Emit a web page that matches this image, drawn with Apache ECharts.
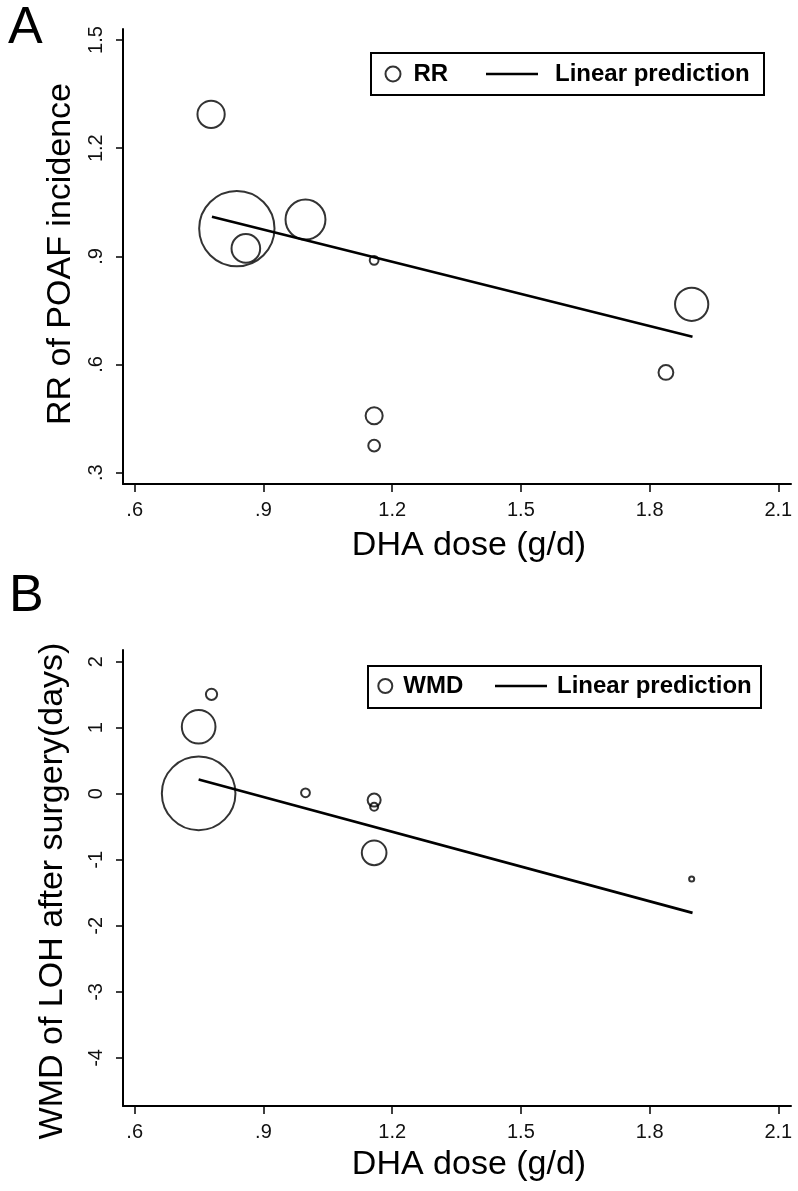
<!DOCTYPE html>
<html><head><meta charset="utf-8">
<script src="https://cdn.jsdelivr.net/npm/echarts@6/dist/echarts.min.js"></script>
<style>html,body{margin:0;padding:0;background:#fff}#c{width:798px;height:1191px}</style>
</head><body><div id="c"></div>
<script>
// ---- data ----
const xTicks = [0.6, 0.9, 1.2, 1.5, 1.8, 2.1];
const yTicksA = [0.3, 0.6, 0.9, 1.2, 1.5];
const yTicksB = [-4, -3, -2, -1, 0, 1, 2];

// Panel A: RR of POAF incidence vs DHA dose
const doseA = [0.778, 0.838, 0.859, 0.998, 1.158, 1.158, 1.158, 1.838, 1.898];
const rrA = [1.294, 0.977, 0.922, 1.002, 0.889, 0.458, 0.375, 0.578, 0.767];
const weightA = [7.3, 51.0, 8.0, 15.0, 1.0, 3.1, 1.6, 2.4, 10.6];
const fitDoseA = [0.78, 1.90];
const fitRRA = [1.010, 0.677];

// Panel B: WMD of LOH vs DHA dose
const doseB = [0.779, 0.749, 0.749, 0.998, 1.158, 1.158, 1.158, 1.898];
const wmdB = [1.506, 1.015, 0.006, 0.015, -0.095, -0.197, -0.894, -1.29];
const weightB = [2.1, 15.2, 68.3, 1.4, 2.7, 1.2, 8.5, 0.6];
const fitDoseB = [0.749, 1.90];
const fitWMDB = [0.218, -1.803];

// ---- styles ----
const FONT = '"Liberation Sans", Arial, Helvetica, sans-serif';
const INK = '#000';
const fmt = v => String(Math.round(v * 10) / 10).replace(/^(-?)0\./, '$1.');

function xAxisFor(gridIndex, gap) {
  return {
    type: 'value', gridIndex, min: 0.5727, max: 2.1295,
    name: 'DHA dose (g/d)', nameLocation: 'middle', nameGap: gap,
    nameTextStyle: { fontFamily: FONT, fontSize: 34, color: INK, padding: [0, 0, 0, 24] },
    axisLine: { show: true, onZero: false, lineStyle: { color: INK, width: 2 } },
    axisTick: { show: true, customValues: xTicks, length: 8, lineStyle: { color: INK, width: 1.5 } },
    axisLabel: { customValues: xTicks, formatter: fmt, margin: 16, fontFamily: FONT, fontSize: 20, color: '#111' },
    splitLine: { show: false }
  };
}
function yAxisFor(gridIndex, min, max, ticks, name, gap, pad) {
  return {
    type: 'value', gridIndex, min, max,
    name, nameLocation: 'middle', nameGap: gap,
    nameTextStyle: { fontFamily: FONT, fontSize: 34, color: INK, padding: pad },
    axisLine: { show: true, onZero: false, lineStyle: { color: INK, width: 2 } },
    axisTick: { show: true, customValues: ticks, length: 7, lineStyle: { color: INK, width: 1.5 } },
    axisLabel: { customValues: ticks, formatter: fmt, rotate: 90, margin: 17, fontFamily: FONT, fontSize: 20, color: '#111' },
    splitLine: { show: false }
  };
}

const scaleA = Math.sqrt(117.27);
const scaleB = Math.sqrt(83.67);
const legText = extraPad => ({ fontFamily: FONT, fontSize: 24, fontWeight: 'bold', color: INK, padding: [0, 0, 0, extraPad] });

const chart = echarts.init(document.getElementById('c'), null, { renderer: 'canvas' });
chart.setOption({
  animation: false,
  backgroundColor: '#ffffff',
  grid: [
    { left: 123, top: 29, width: 668, height: 455 },
    { left: 123, top: 650, width: 668, height: 456 }
  ],
  xAxis: [xAxisFor(0, 45), xAxisFor(1, 42)],
  yAxis: [
    yAxisFor(0, 0.2687, 1.5305, yTicksA, 'RR of POAF incidence', 44, [0, 0, 0, 5]),
    yAxisFor(1, -4.727, 2.177, yTicksB, 'WMD of LOH after surgery(days)', 53, [0, 26, 0, 0])
  ],
  legend: [
    { data: ['RR'], left: 384.5, top: 62, padding: 0, itemWidth: 15, itemHeight: 15, textStyle: legText(8) },
    { data: [{ name: 'Linear prediction', icon: 'rect' }], left: 486, top: 62, padding: 0, itemWidth: 52, itemHeight: 2.6, textStyle: legText(12) },
    { data: ['WMD'], left: 377.3, top: 674, padding: 0, itemWidth: 14, itemHeight: 14, textStyle: legText(6) },
    { data: [{ name: 'Linear prediction', icon: 'rect' }], left: 495, top: 674, padding: 0, itemWidth: 52, itemHeight: 2.6, textStyle: legText(5) }
  ],
  graphic: [
    { type: 'rect', shape: { x: 371, y: 53, width: 393, height: 42 }, style: { fill: 'none', stroke: INK, lineWidth: 2 }, z: 10 },
    { type: 'rect', shape: { x: 368, y: 666, width: 393, height: 42 }, style: { fill: 'none', stroke: INK, lineWidth: 2 }, z: 10 },
    { type: 'text', x: 8, y: 29, style: { text: 'A', font: '52px ' + FONT, fill: '#000', verticalAlign: 'middle', align: 'left' } },
    { type: 'text', x: 9, y: 597, style: { text: 'B', font: '52px ' + FONT, fill: '#000', verticalAlign: 'middle', align: 'left' } }
  ],
  series: [
    { name: 'RR', type: 'scatter', xAxisIndex: 0, yAxisIndex: 0, symbol: 'circle',
      data: doseA.map((x, i) => [x, rrA[i]]),
      symbolSize: (v, p) => Math.sqrt(weightA[p.dataIndex]) * scaleA - 2,
      itemStyle: { color: 'rgba(0,0,0,0)', borderColor: INK, borderWidth: 2 } },
    { name: 'Linear prediction', type: 'line', xAxisIndex: 0, yAxisIndex: 0, symbol: 'none',
      data: fitDoseA.map((x, i) => [x, fitRRA[i]]),
      itemStyle: { color: INK }, lineStyle: { color: INK, width: 2.6 } },
    { name: 'WMD', type: 'scatter', xAxisIndex: 1, yAxisIndex: 1, symbol: 'circle',
      data: doseB.map((x, i) => [x, wmdB[i]]),
      symbolSize: (v, p) => Math.sqrt(weightB[p.dataIndex]) * scaleB - 2,
      itemStyle: { color: 'rgba(0,0,0,0)', borderColor: INK, borderWidth: 2 } },
    { name: 'Linear prediction', type: 'line', xAxisIndex: 1, yAxisIndex: 1, symbol: 'none',
      data: fitDoseB.map((x, i) => [x, fitWMDB[i]]),
      itemStyle: { color: INK }, lineStyle: { color: INK, width: 2.6 } }
  ]
});
</script></body></html>
